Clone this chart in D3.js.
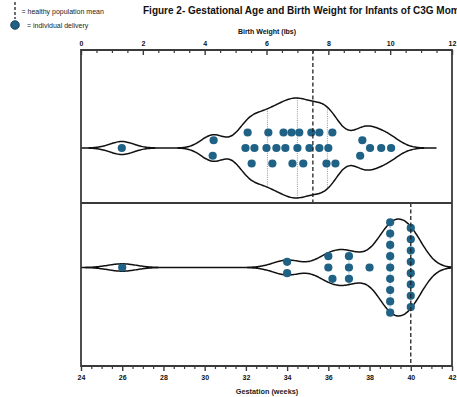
<!DOCTYPE html>
<html><head><meta charset="utf-8">
<script src="https://cdn.jsdelivr.net/npm/d3@7"></script>
<style>body{margin:0;background:#fff;} svg{display:block;font-family:"Liberation Sans",Arial,sans-serif;}</style>
</head><body><svg id="c" width="457" height="397"></svg>
<script>
// ---- data ----
const birthWeights = [1.32, 4.26, 4.29, 5.32, 5.39, 5.52, 5.61, 6.0, 6.06, 6.19, 6.32, 6.55, 6.61, 6.81, 6.84, 7.0, 7.06, 7.19, 7.39, 7.45, 7.71, 7.71, 7.94, 8.0, 8.13, 8.23, 9.03, 9.1, 9.35, 9.71, 10.03];
const gestationWeeks = [26, 34, 34, 36, 36, 36.2, 37, 37, 37, 38, 39, 39, 39, 39, 39, 39, 39, 39, 39, 40, 40, 40, 40, 40, 40, 40, 40];
const weightMean = 7.5;
const gestationMean = 40;
const weightTicks = [0, 2, 4, 6, 8, 10, 12];
const gestationTicks = [24, 26, 28, 30, 32, 34, 36, 38, 40, 42];
const titleText = "Figure 2- Gestational Age and Birth Weight for Infants of C3G Moms";
const weightLabel = "Birth Weight (lbs)";
const gestationLabel = "Gestation (weeks)";
const legendLabels = ["= healthy population mean", "= individual delivery"];

// ---- layout ----
const L = 81, R = 452, T = 50, MID = 203, B = 366;
const dotColor = "#1f6285", frameColor = "#3a3a3a";
const svg = d3.select("#c");
const xTop = d3.scaleLinear().domain([0, 12]).range([L, R]);
const xBot = d3.scaleLinear().domain([24, 42]).range([L, R]);

function kde(values, h, lo, hi, n) {
  return d3.range(n + 1).map(i => {
    const x = lo + (hi - lo) * i / n;
    return [x, dens(values, h, x)];
  });
}
function dens(values, h, x) {
  return d3.mean(values, v => Math.exp(-0.5 * ((x - v) / h) ** 2)) / (h * Math.sqrt(2 * Math.PI));
}
function swarm(values, x, minDx, step) {
  const pts = values.map(v => ({ v, px: x(v) })).sort((a, b) => a.px - b.px);
  const clusters = []; let cur = [];
  pts.forEach((p, i) => { if (i > 0 && p.px - pts[i - 1].px >= minDx) { clusters.push(cur); cur = []; } cur.push(p); });
  clusters.push(cur);
  clusters.forEach(cl => {
    const placed = [];
    cl.forEach(p => {
      for (let k = 0; ; k++) {
        const r = k === 0 ? 0 : (k % 2 ? -Math.ceil(k / 2) : Math.ceil(k / 2));
        if (!placed.some(q => q.row === r && Math.abs(q.px - p.px) < minDx)) { p.row = r; placed.push(p); break; }
      }
    });
    const lo = d3.min(cl, p => p.row), hi = d3.max(cl, p => p.row);
    cl.forEach(p => p.off = (p.row - (lo + hi) / 2) * step);
  });
  return pts;
}

function violin(values, x, cy, h, lo, hi, maxW, step, meanVal, y0, y1) {
  const g = svg.append("g");
  const d = kde(values, h, lo, hi, 300);
  const w = d3.scaleLinear().domain([0, d3.max(d, e => e[1])]).range([0, maxW]);
  const sorted = values.slice().sort(d3.ascending);
  [0.25, 0.5, 0.75].forEach(p => {
    const q = d3.quantile(sorted, p), hw = w(dens(values, h, q));
    g.append("line").attr("x1", x(q)).attr("x2", x(q)).attr("y1", cy - hw).attr("y2", cy + hw)
      .attr("stroke", "#3f8ab3").attr("stroke-width", 0.8).attr("stroke-dasharray", "1,1.2");
  });
  const up = d3.line().x(e => x(e[0])).y(e => cy - w(e[1])).curve(d3.curveBasis);
  const dn = d3.line().x(e => x(e[0])).y(e => cy + w(e[1])).curve(d3.curveBasis);
  g.append("path").attr("d", up(d) + dn(d))
    .attr("fill", "none").attr("stroke", "#111").attr("stroke-width", 1.5);
  const pts = swarm(values, x, 7.5, step);
  g.selectAll("circle").data(pts).join("circle")
    .attr("cx", p => p.px).attr("cy", p => cy + p.off).attr("r", 4.1).attr("fill", dotColor);
  g.append("line").attr("x1", x(meanVal)).attr("x2", x(meanVal)).attr("y1", y0).attr("y2", y1)
    .attr("stroke", "#222").attr("stroke-width", 1.3).attr("stroke-dasharray", "4,2.5");
}

violin(birthWeights, xTop, 148, 0.38, 0, 11.5, 50, 15.5, weightMean, T, MID);
violin(gestationWeeks, xBot, 267.5, 0.68, 24, 42, 48.5, 11.3, gestationMean, MID, B);

// ---- axes ----
function ax(axisFn, scale, y, major, size, pad) {
  const minor = d3.range(scale.domain()[0], scale.domain()[1] + 0.001, 0.5).filter(v => !major.includes(v));
  svg.append("g").attr("transform", `translate(0,${y})`)
    .call(axisFn(scale).tickValues(minor).tickFormat("").tickSize(size * 3).tickSizeOuter(0))
    .call(g => g.select(".domain").remove())
    .call(g => g.selectAll("line").attr("stroke", frameColor).attr("stroke-width", 1.2));
  svg.append("g").attr("transform", `translate(0,${y})`)
    .call(axisFn(scale).tickValues(major).tickFormat(d3.format("d")).tickSize(size * 5).tickSizeOuter(0).tickPadding(pad))
    .call(g => g.select(".domain").remove())
    .call(g => g.selectAll("line").attr("stroke", frameColor).attr("stroke-width", 1.4))
    .call(g => g.selectAll("text").attr("font-size", 7).attr("font-weight", "bold").attr("fill", "#111")
      .attr("font-family", '"Liberation Sans",Arial,sans-serif'));
}
ax(d3.axisTop, xTop, T, weightTicks, -1, 4.5);
ax(d3.axisBottom, xBot, B, gestationTicks, 1, 4.5);

// frame
[[L, T, R, T], [L, B, R, B], [L, MID, R, MID], [L, T - 1, L, B + 1], [R, T - 1, R, B + 1]].forEach(s =>
  svg.append("line").attr("x1", s[0]).attr("y1", s[1]).attr("x2", s[2]).attr("y2", s[3])
    .attr("stroke", frameColor).attr("stroke-width", 1.8));

// ---- text ----
svg.append("text").attr("x", 143).attr("y", 13.8).attr("font-size", 10).attr("font-weight", "bold").attr("fill", "#111").text(titleText);
svg.append("text").attr("x", (L + R) / 2 + 0.5).attr("y", 34).attr("text-anchor", "middle").attr("font-size", 7).attr("font-weight", "bold").attr("fill", "#111").text(weightLabel);
svg.append("text").attr("x", (L + R) / 2 + 0.5).attr("y", 394).attr("text-anchor", "middle").attr("font-size", 7.3).attr("font-weight", "bold").attr("fill", "#222").text(gestationLabel);

// legend
svg.append("line").attr("x1", 15).attr("x2", 15).attr("y1", 2).attr("y2", 19)
  .attr("stroke", "#222").attr("stroke-width", 1.3).attr("stroke-dasharray", "3,2");
svg.append("text").attr("x", 21.5).attr("y", 13.5).attr("font-size", 7).attr("fill", "#222").text(legendLabels[0]);
svg.append("circle").attr("cx", 15).attr("cy", 25).attr("r", 4.3).attr("fill", dotColor).attr("stroke", "#0d2c40").attr("stroke-width", 0.8);
svg.append("text").attr("x", 27).attr("y", 28).attr("font-size", 7).attr("fill", "#222").text(legendLabels[1]);
</script></body></html>
